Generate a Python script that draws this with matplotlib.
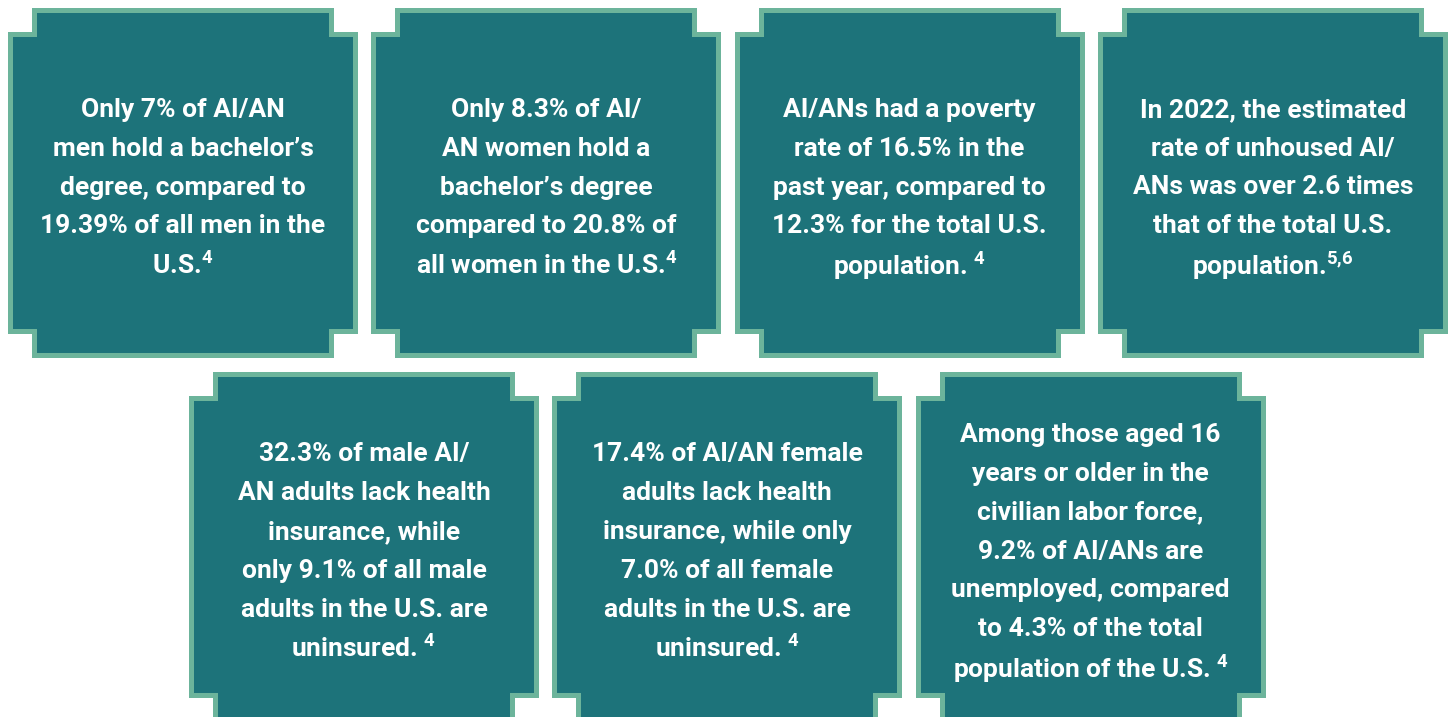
import matplotlib.pyplot as plt
from matplotlib.patches import Polygon

plt.rcParams['font.family'] = ['Roboto', 'DejaVu Sans']
plt.rcParams['mathtext.fontset'] = 'custom'
plt.rcParams['mathtext.rm'] = 'Roboto:bold'
plt.rcParams['mathtext.bf'] = 'Roboto:bold'

TEAL = "#1D737A"
EDGE = "#6CB49B"

# text of each card, one string per line
top_row = [
    ["Only 7% of AI/AN", "men hold a bachelor’s", "degree, compared to",
     "19.39% of all men in the", r"U.S.$^{4}$"],
    ["Only 8.3% of AI/", "AN women hold a", "bachelor’s degree",
     "compared to 20.8% of", r"all women in the U.S.$^{4}$"],
    ["AI/ANs had a poverty", "rate of 16.5% in the", "past year, compared to",
     "12.3% for the total U.S.", r"population. $^{4}$"],
    ["In 2022, the estimated", "rate of unhoused AI/", "ANs was over 2.6 times",
     "that of the total U.S.", r"population.$^{5{,}6}$"],
]
bottom_row = [
    ["32.3% of male AI/", "AN adults lack health", "insurance, while",
     "only 9.1% of all male", "adults in the U.S. are", r"uninsured. $^{4}$"],
    ["17.4% of AI/AN female", "adults lack health", "insurance, while only",
     "7.0% of all female", "adults in the U.S. are", r"uninsured. $^{4}$"],
    ["Among those aged 16", "years or older in the", "civilian labor force,",
     "9.2% of AI/ANs are", "unemployed, compared", "to 4.3% of the total",
     r"population of the U.S. $^{4}$"],
]

W, H = 1448, 717
fig = plt.figure(figsize=(W / 100, H / 100), dpi=100)
ax = fig.add_axes([0, 0, 1, 1])
ax.set_xlim(0, W)
ax.set_ylim(H, 0)
ax.axis("off")

SIZE = 350
NOTCH = 24
BW = 5
LINE = 38.8


def notched(x0, y0, s, n):
    x1, y1 = x0 + s, y0 + s
    return [(x0 + n, y0), (x1 - n, y0), (x1 - n, y0 + n), (x1, y0 + n),
            (x1, y1 - n), (x1 - n, y1 - n), (x1 - n, y1), (x0 + n, y1),
            (x0 + n, y1 - n), (x0, y1 - n), (x0, y0 + n), (x0 + n, y0 + n)]


def card(x0, y0, lines):
    ax.add_patch(Polygon(notched(x0, y0, SIZE, NOTCH), closed=True,
                         facecolor=EDGE, edgecolor="none"))
    ax.add_patch(Polygon(notched(x0 + BW, y0 + BW, SIZE - 2 * BW, NOTCH),
                         closed=True, facecolor=TEAL, edgecolor="none"))
    cx, cy = x0 + SIZE / 2, y0 + SIZE / 2 + 2
    k = len(lines)
    for i, line in enumerate(lines):
        ax.text(cx, cy + (i - (k - 1) / 2) * LINE, line, ha="center",
                va="center_baseline", color="white", fontsize=19,
                fontweight="bold")


for i, lines in enumerate(top_row):
    card(8 + i * 363.3, 8, lines)
for i, lines in enumerate(bottom_row):
    card(189 + i * 363.3, 372, lines)

fig.savefig("out.png", dpi=100)
